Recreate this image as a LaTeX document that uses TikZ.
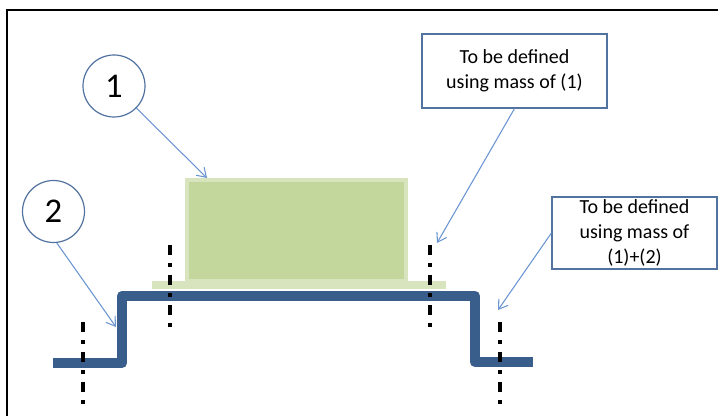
\documentclass[tikz,border=0pt]{standalone}
\usepackage{fontspec}
\setmainfont{Carlito}
\usetikzlibrary{arrows.meta}

\definecolor{profileblue}{HTML}{3A5E8C}
\definecolor{greenfill}{HTML}{C3D69B}
\definecolor{greenedge}{HTML}{D7E4BD}
\definecolor{arrowblue}{HTML}{6A95D2}
\definecolor{boxedge}{HTML}{52729F}

\begin{document}
\begin{tikzpicture}[x=0.75pt,y=-0.75pt,
    callout/.style={draw=boxedge,line width=0.9pt,align=center,inner sep=0pt,
        font=\fontsize{15}{18.5}\selectfont},
    marker/.style={circle,draw=boxedge,line width=0.9pt,minimum size=46.5pt,
        inner sep=0pt,font=\fontsize{26}{30}\selectfont},
    pointer/.style={draw=arrowblue,line width=0.8pt,-{Straight Barb[length=6.5pt,width=8.5pt]}},
    axisline/.style={line width=2.4pt,dash pattern=on 7.5pt off 6.3pt on 2.4pt off 6.3pt},
    profile/.style={draw=profileblue,line width=7.8pt,line join=round}]

    % Picture size
    \useasboundingbox (0,0) rectangle (718,416);

    % Frame (top and left edges only)
    \draw[line width=1.5pt] (7,416) -- (7,10) -- (718,10);

    % Base plate and the green block on it
    \fill[greenedge] (152,281) rectangle (446,289);
    \draw[greenedge,fill=greenfill,line width=3pt] (186.5,180.5) rectangle (406,281);

    % The bent blue profile
    \draw[profile] (53,363) -- (122,363) -- (122,296) -- (475,296) -- (475,362) -- (533,362);

    % Dash-dot axis lines
    \draw[axisline] (83,322) -- (83,404);
    \draw[axisline] (170,245) -- (170,327);
    \draw[axisline] (430,245) -- (430,327);
    \draw[axisline] (500,322) -- (500,404);

    % Numbered markers
    \node[marker] (c1) at (114,86) {1};
    \node[marker] (c2) at (53.5,211.5) {2};

    % Text boxes
    \node[callout,minimum width=138.75pt,minimum height=55.5pt] (b1) at (514.5,71)
        {To be defined\\using mass of (1)};
    \node[callout,minimum width=123.75pt,minimum height=54pt] (b2) at (634.5,233)
        {To be defined\\using mass of\\(1)+(2)};

    % Arrow tips
    \coordinate (h1) at (207,178);
    \coordinate (h2) at (116,327);
    \coordinate (h3) at (437,243);
    \coordinate (h4) at (498,310);

    % Pointers
    \draw[pointer] (c1) -- (h1);
    \draw[pointer] (c2.-84) -- (h2);
    \draw[pointer] (b1.south) -- (h3);
    \draw[pointer] (b2.west) -- (h4);

\end{tikzpicture}
\end{document}
